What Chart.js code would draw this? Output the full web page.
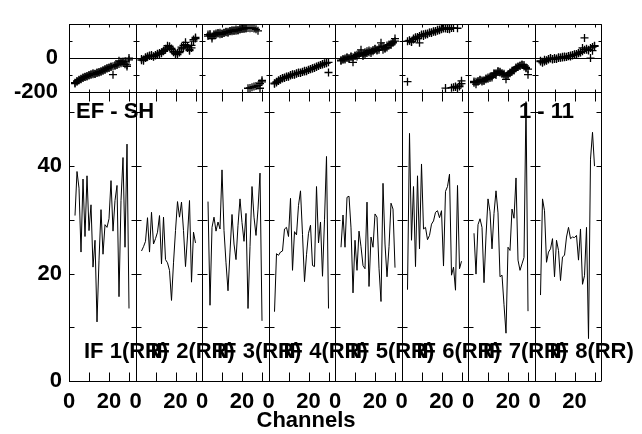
<!DOCTYPE html>
<html>
<head>
<meta charset="utf-8">
<script src="https://cdn.jsdelivr.net/npm/chart.js@4"></script>
<style>
  html, body { margin: 0; padding: 0; background: #fff; }
  #wrap { position: relative; width: 642px; height: 434px; }
  #wrap canvas { position: absolute; left: 0; top: 0; }
</style>
</head>
<body>
<div id="wrap">
  <canvas id="phase-chart" width="642" height="434"></canvas>
  <canvas id="amp-chart" width="642" height="434"></canvas>
</div>
<script>
// Baseline EF - SH, IF 1..8 (RR), channels 3..30

const channels = [3, 4, 5, 6, 7, 8, 9, 10, 11, 12, 13, 14, 15, 16, 17, 18, 19, 20, 21, 22, 23, 24, 25, 26, 27, 28, 29, 30];

// Amplitude per IF
const amp1 = [30.8, 39.0, 35.9, 24.0, 37.6, 26.9, 38.2, 28.0, 32.8, 21.2, 26.2, 11.0, 22.5, 31.9, 23.6, 29.1, 28.6, 30.2, 37.3, 27.9, 33.6, 36.4, 15.7, 33.6, 41.6, 24.9, 44.1, 13.5];
const amp2 = [24.2, 25.0, 26.0, 30.4, 24.0, 31.4, 25.5, 26.5, 27.7, 30.8, 21.8, 30.5, 22.6, 22.0, 20.6, 15.0, 22.0, 28.0, 33.4, 30.5, 33.3, 28.0, 21.3, 27.0, 33.6, 18.4, 27.7, 25.7];
const amp3 = [33.4, 14.1, 28.6, 30.5, 27.9, 29.6, 28.3, 39.3, 28.0, 22.0, 16.8, 24.0, 31.0, 25.5, 22.6, 29.0, 33.9, 29.5, 26.0, 31.2, 13.5, 25.0, 36.2, 30.5, 27.1, 32.0, 38.7, 11.2];
const amp4 = [12.9, 23.7, 23.4, 24.0, 24.2, 28.3, 28.6, 26.9, 34.0, 20.6, 27.8, 27.2, 32.7, 35.4, 27.3, 18.5, 23.5, 27.5, 29.0, 21.5, 21.3, 36.2, 25.7, 29.6, 19.5, 30.0, 41.8, 13.5];
const amp5 = [24.9, 30.9, 24.9, 34.2, 34.4, 28.5, 16.4, 26.2, 20.6, 27.9, 25.0, 21.5, 20.9, 33.3, 17.6, 26.8, 24.9, 31.1, 30.5, 21.0, 14.8, 36.8, 25.5, 19.4, 25.0, 33.1, 32.0, 21.1];
const amp6 = [17.0, 46.1, 26.2, 36.2, 21.3, 38.2, 24.6, 40.4, 28.3, 28.6, 26.3, 27.1, 29.2, 29.8, 31.4, 31.7, 30.4, 31.7, 21.4, 35.3, 36.2, 38.5, 19.7, 21.2, 16.9, 36.4, 20.9, 22.3];
const amp7 = [27.5, 19.9, 29.1, 30.2, 28.6, 18.3, 27.0, 33.9, 31.5, 24.6, 31.2, 35.4, 31.3, 19.4, 19.7, 14.2, 8.9, 24.9, 24.3, 32.0, 30.3, 37.8, 22.5, 20.6, 21.8, 23.0, 52.0, 13.0];
const amp8 = [16.0, 33.9, 31.7, 22.1, 24.0, 24.6, 26.5, 19.4, 26.2, 24.3, 18.7, 23.1, 23.4, 26.8, 28.6, 26.5, 26.8, 26.7, 27.1, 22.5, 28.3, 18.0, 19.6, 28.6, 7.9, 41.3, 46.3, 40.0];

// Phase per IF (two sets of crosses)
const ph1a = [-145, -135, -130, -122, -118, -112, -105, -100, -98, -95, -92, -88, -85, -80, -75, -70, -62, -55, -50, -98, -45, -38, -16, -22, -28, -37, -49, 0];
const ph1b = [-150, -140, -128, -125, -115, -110, -108, -102, -96, -90, -94, -85, -82, -78, -72, -65, -60, -58, -52, -48, -42, -40, -35, -30, -20, -18, -40, -10];
const ph2a = [-12, -8, 5, 8, 16, 12, 11, 18, 22, 24, 35, 44, 55, 73, 65, 57, 40, 24, 30, 33, 65, 75, 93, 60, 44, 60, 109, 122];
const ph2b = [-5, -15, 0, 10, 12, 18, 8, 15, 25, 30, 28, 40, 50, 60, 70, 50, 35, 28, 20, 40, 55, 60, 80, 70, 50, 75, 100, 115];
const ph3a = [139, 135, 115, 140, 145, 148, 140, 142, 150, 152, 155, 158, 164, 160, 162, 165, 170, 172, 177, 175, -178, -176, -172, -168, -165, -161, -150, -131];
const ph3b = [130, 142, 128, 135, 138, 145, 150, 145, 148, 155, 150, 160, 158, 165, 168, 164, 170, 175, 172, 178, 178, 176, 178, 175, 170, 161, -178, -140];
const ph4a = [-148, -144, -135, -123, -120, -115, -112, -107, -102, -98, -95, -92, -88, -85, -82, -79, -75, -70, -66, -62, -58, -52, -46, -41, -38, -33, -30, -85];
const ph4b = [-152, -140, -130, -128, -118, -118, -108, -110, -100, -95, -98, -90, -85, -88, -80, -75, -78, -68, -64, -60, -55, -50, -45, -40, -35, -30, -28, -25];
const ph5a = [-16, -10, -8, 0, -5, 8, -25, 13, 10, 25, 49, 13, 20, 41, 35, 30, 40, 52, 45, 49, 90, 49, 55, 62, 74, 85, 95, 115];
const ph5b = [-12, -5, -2, 5, 0, 10, 5, 15, 20, 18, 30, 25, 35, 30, 45, 40, 48, 55, 50, 60, 65, 70, 60, 75, 80, 78, 90, 100];
const ph6a = [-139, 102, 98, 110, 123, 115, 90, 139, 130, 144, 140, 151, 148, 156, 160, 167, 165, 170, 177, 175, 172, 170, 177, 178, -170, -177, -160, -134];
const ph6b = [100, 105, 95, 115, 118, 125, 130, 135, 140, 138, 145, 150, 152, 158, 155, 162, 168, 172, 175, -177, 178, 175, -175, -172, -167, 176, -168, -150];
const ph7a = [-138, -154, -140, -130, -132, -135, -125, -122, -118, -114, -89, -100, -76, -85, -89, -93, -125, -100, -89, -80, -73, -60, -49, -45, -41, -49, -60, -98];
const ph7b = [-145, -140, -135, -128, -138, -130, -120, -115, -110, -105, -95, -90, -82, -80, -92, -98, -105, -95, -85, -75, -70, -55, -52, -45, -38, -40, -55, -65];
const ph8a = [-16, -28, -20, -16, -5, 0, -8, -5, -5, 0, 2, 8, 5, 6, 11, 10, 16, 20, 24, 30, 33, 60, 119, 49, 50, 0, 44, 73];
const ph8b = [-20, -22, -10, -12, -8, -2, -5, 0, -3, 5, 3, 4, 10, 8, 12, 15, 18, 22, 20, 28, 35, 40, 50, 55, 45, 60, 65, 70];

// Axis ticks and labels
const ampTicks = [0, 10, 20, 30, 40, 50];
const ampLabels = [0, 20, 40];
const phaseTicks = [-200, -100, 0, 100, 200];
const phaseLabels = [-200, 0];
const chanTicks = [0, 10, 20, 30];
const chanLabels = [0, 20];

const amps = [amp1, amp2, amp3, amp4, amp5, amp6, amp7, amp8];
const phasesA = [ph1a, ph2a, ph3a, ph4a, ph5a, ph6a, ph7a, ph8a];
const phasesB = [ph1b, ph2b, ph3b, ph4b, ph5b, ph6b, ph7b, ph8b];

const PANEL = 33.25; // channel units per IF panel
const FAMILY = "'Liberation Sans', Arial, sans-serif";

Chart.defaults.font = { family: FAMILY, size: 22, weight: 'bold' };
Chart.defaults.color = '#000';

function panelPoints(values, p) {
    return channels.map((c, i) => ({ x: p * PANEL + c, y: values[i] }));
}

function chanOf(v) {
    return Math.round(v - Math.floor(v / PANEL + 1e-6) * PANEL);
}

// Frame, IF dividers and inward tick marks
function framePlugin(xLen, yLen, yTickValues, zeroLine) {
    return {
        id: 'frame',
        afterDatasetsDraw(chart) {
            const { ctx, chartArea: a, scales: { x, y } } = chart;
            const n = amps.length;
            const top = Math.round(a.top) + 0.5;
            const bottom = Math.round(a.bottom) + 0.5;
            ctx.save();
            ctx.strokeStyle = '#000';
            ctx.lineWidth = 1;
            ctx.beginPath();
            ctx.moveTo(a.left, top); ctx.lineTo(a.right, top);
            ctx.moveTo(a.left, bottom); ctx.lineTo(a.right, bottom);
            for (let p = 0; p <= n; p++) {
                const px = Math.round(x.getPixelForValue(p * PANEL)) + 0.5;
                ctx.moveTo(px, a.top); ctx.lineTo(px, a.bottom);
                yTickValues.forEach(v => {
                    const py = Math.round(y.getPixelForValue(v)) + 0.5;
                    ctx.moveTo(p === 0 ? px : px - yLen, py);
                    ctx.lineTo(p === n ? px : px + yLen, py);
                });
                if (p < n) {
                    chanTicks.forEach(c => {
                        const tx = Math.round(x.getPixelForValue(p * PANEL + c)) + 0.5;
                        ctx.moveTo(tx, top); ctx.lineTo(tx, top + xLen);
                        ctx.moveTo(tx, bottom); ctx.lineTo(tx, bottom - xLen);
                    });
                }
            }
            if (zeroLine) {
                const zy = Math.round(y.getPixelForValue(0)) + 0.5;
                ctx.moveTo(a.left, zy); ctx.lineTo(a.right, zy);
            }
            ctx.stroke();
            ctx.restore();
        }
    };
}

// Baseline, IF and axis labels
const labelPlugin = {
    id: 'labels',
    afterDraw(chart) {
        const { ctx, chartArea: a, scales: { x } } = chart;
        ctx.save();
        ctx.fillStyle = '#000';
        ctx.font = `bold 22px ${FAMILY}`;
        ctx.textBaseline = 'middle';
        ctx.textAlign = 'left';
        ctx.fillText('EF - SH', a.left + 7, a.top + 20);
        amps.forEach((v, p) => {
            ctx.fillText(`IF ${p + 1}(RR)`, x.getPixelForValue(p * PANEL) + 15, a.bottom - 29);
        });
        ctx.textAlign = 'right';
        ctx.fillText('1 - 11', a.right - 27, a.top + 20);
        ctx.textAlign = 'center';
        ctx.fillText('Channels', a.left + 237, 421);
        ctx.restore();
    }
};

// Amplitude chart
new Chart(document.getElementById('amp-chart'), {
    type: 'scatter',
    data: {
        datasets: amps.map((v, p) => ({
            data: panelPoints(v, p),
            showLine: true,
            borderColor: '#000',
            borderWidth: 1,
            pointRadius: 0,
            tension: 0
        }))
    },
    options: {
        responsive: false,
        animation: false,
        events: [],
        layout: { padding: { left: 0, right: 41, top: 92, bottom: 0 } },
        plugins: { legend: { display: false }, tooltip: { enabled: false } },
        scales: {
            x: {
                type: 'linear',
                min: 0,
                max: amps.length * PANEL,
                grid: { display: false, drawTicks: false },
                border: { display: false },
                afterFit: (s) => { s.height = 53; },
                afterBuildTicks: (s) => {
                    s.ticks = [];
                    amps.forEach((v, p) => chanLabels.forEach(c => s.ticks.push({ value: p * PANEL + c })));
                },
                ticks: {
                    autoSkip: false,
                    maxRotation: 0,
                    padding: 8,
                    callback: (value) => String(chanOf(value))
                }
            },
            y: {
                min: 0,
                max: 53.8,
                grid: { display: false, drawTicks: false },
                border: { display: false },
                afterFit: (s) => { s.width = 69; },
                afterBuildTicks: (s) => { s.ticks = ampTicks.map(v => ({ value: v })); },
                ticks: {
                    autoSkip: false,
                    padding: 7,
                    callback: (value) => ampLabels.includes(value) ? String(value) : ''
                }
            }
        }
    },
    plugins: [framePlugin(9, 5, ampTicks, false), labelPlugin]
});

// Phase chart
const phaseSets = [];
amps.forEach((v, p) => {
    phaseSets.push({ data: panelPoints(phasesB[p], p) });
    phaseSets.push({ data: panelPoints(phasesA[p], p) });
});

new Chart(document.getElementById('phase-chart'), {
    type: 'scatter',
    data: {
        datasets: phaseSets.map(d => Object.assign(d, {
            pointStyle: 'cross',
            pointRadius: 4,
            borderWidth: 1.3,
            borderColor: '#000',
            backgroundColor: '#000'
        }))
    },
    options: {
        responsive: false,
        animation: false,
        events: [],
        layout: { padding: { left: 0, right: 41, top: 12, bottom: 342 } },
        plugins: { legend: { display: false }, tooltip: { enabled: false } },
        scales: {
            x: {
                type: 'linear',
                display: false,
                min: 0,
                max: amps.length * PANEL
            },
            y: {
                min: -200,
                max: 200,
                grid: { display: false, drawTicks: false },
                border: { display: false },
                afterFit: (s) => { s.width = 69; },
                afterBuildTicks: (s) => { s.ticks = phaseTicks.map(v => ({ value: v })); },
                ticks: {
                    autoSkip: false,
                    padding: 11,
                    callback: (value) => phaseLabels.includes(value) ? String(value) : ''
                }
            }
        }
    },
    plugins: [framePlugin(3, 3, phaseTicks, true)]
});
</script>
</body>
</html>
